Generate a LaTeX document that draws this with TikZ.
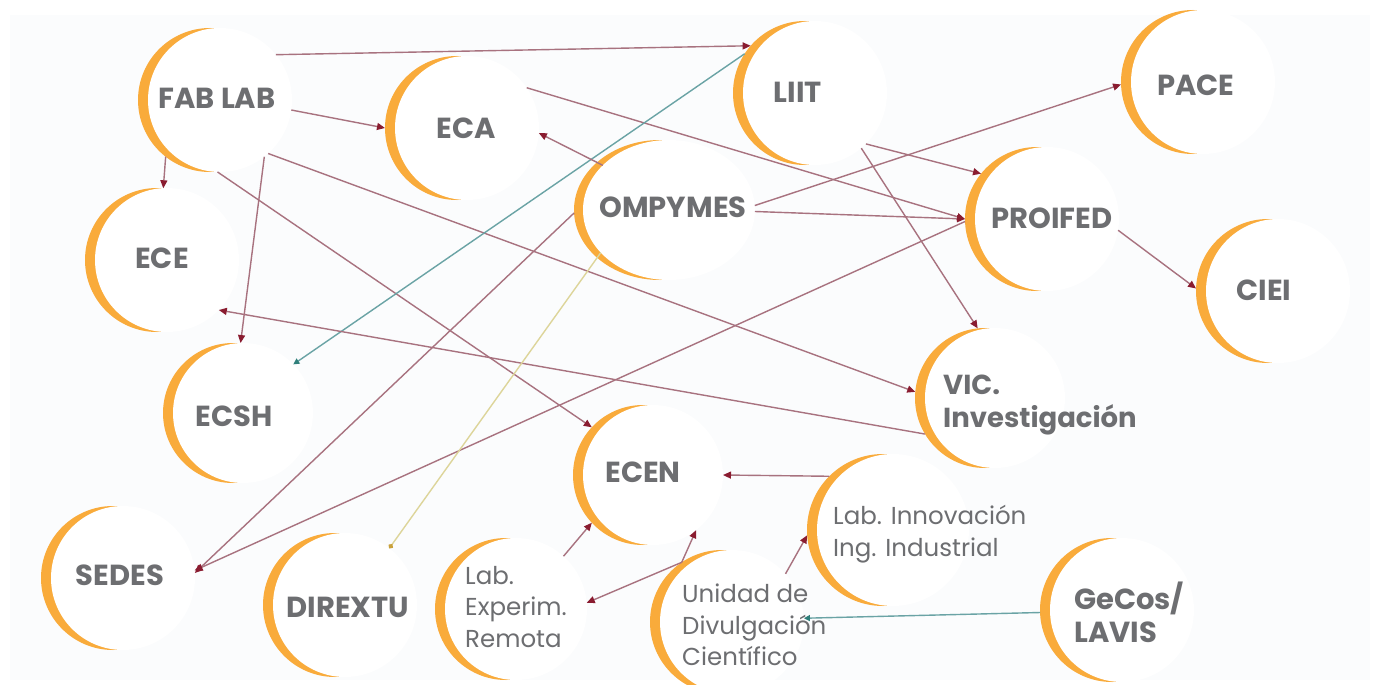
\documentclass[tikz,border=0pt]{standalone}
\usepackage{fontspec}
\setmainfont{Poppins}
\usetikzlibrary{arrows.meta,shapes.geometric}
\definecolor{orng}{HTML}{F9AB3B}
\definecolor{txt}{HTML}{6D6E71}
\definecolor{lnk}{HTML}{A8727F}
\definecolor{tip}{HTML}{8A1C30}
\definecolor{tl}{HTML}{6AA3A5}
\definecolor{tltip}{HTML}{2F7F7A}
\definecolor{yl}{HTML}{DDD59A}
\definecolor{yltip}{HTML}{C9A13B}
\definecolor{bgp}{HTML}{FBFCFD}
\newcommand\bubble[4]{%
  \node[odisc, minimum size=2*#4] (#1o) at (#2-10,#3) {};
  \node[wdisc, minimum size=2*#4] (#1) at (#2,#3) {};
}
\begin{document}
\begin{tikzpicture}[x=1pt,y=-1pt,
  odisc/.style={circle, fill=orng, inner sep=0pt, outer sep=0pt},
  wdisc/.style={circle, fill=white, inner sep=0pt, outer sep=0pt},
  link/.style={draw=lnk, line width=1.4pt, -{Triangle[length=8pt,width=7pt,color=tip]}},
  tlink/.style={draw=tl, line width=1.4pt, -{Triangle[length=6pt,width=6pt,color=tltip]}},
  ylink/.style={draw=yl, line width=1.4pt, -{Circle[length=5pt,color=yltip]}},
  bl/.style={text=txt, font=\bfseries\fontsize{29}{33}\selectfont, inner sep=0pt},
  rl/.style={text=txt, font=\fontsize{24.5}{31.5}\selectfont, inner sep=0pt, align=left, anchor=west},
  blm/.style={bl, align=left, anchor=west}]
\useasboundingbox (0,0) rectangle (1374,685);
\fill[white] (0,0) rectangle (1374,685);
\fill[bgp] (10,15) rectangle (1370,680);
% nodes
\bubble{fab}{220}{100}{72}
\bubble{eca}{467}{128}{72}
\bubble{liit}{815}{93}{72}
\bubble{pace}{1203}{82}{72}
\node[ellipse, fill=orng, inner sep=0pt, outer sep=0pt, minimum width=172, minimum height=140] (ompo) at (660,210) {};
\node[ellipse, fill=white, inner sep=0pt, outer sep=0pt, minimum width=172, minimum height=140] (omp) at (669,210) {};
\bubble{proi}{1047}{219}{72}
\bubble{ciei}{1278}{291}{72}
\bubble{ece}{167}{260}{72}
\bubble{ecsh}{243}{413}{70}
\bubble{sedes}{123}{578}{72}
\bubble{direx}{345}{605}{72}
\bubble{ecen}{653}{475}{70}
\bubble{vic}{995}{398}{70}
\bubble{lexp}{516}{609}{71}
\bubble{unid}{732}{622}{72}
\bubble{linn}{893}{530}{76}
\bubble{geco}{1122}{610}{72}
% connectors
\draw[link] (fab.39) -- (liito.139);
\draw[link] (fab.-8) -- (ecao.180);
\draw[link] (fabo.-128) -- (eceo.85);
\draw[link] (fab.-52) -- (ecsh.92);
\draw[link] (fab.-92) -- (eceno.137);
\draw[link] (fab.-48) -- (vico.175);
\draw[link] (eca.34) -- (proio.180);
\draw[tlink] (liito.147) -- (ecsh.44);
\draw[link] (omp.146) -- (eca.-4);
\draw[link] (omp.3) -- (paceo.182);
\draw[link] (omp.-1) -- (proio.180);
\draw[link] (liit.-45) -- (proio.141);
\draw[link] (liit.-50) -- (vico.96);
\draw[link] (proi.-9) -- (cieio.178);
\draw[link] (vico.-149) -- (ece.-44);
\draw[link] (linno.135) -- (ecen.0);
\draw[link] (lexp.48) -- (eceno.-137);
\draw[link] (unido.124) -- (ecen.-52);
\draw[link] (unido.124) -- (lexp.5);
\draw[link] (unid.42) -- (linno.184);
\draw[tlink] (gecoo.182) -- (unid.3);
\draw[link] (ompo.182) -- (sedes.4);
\draw[link] (proio.182) -- (sedes.6);
\draw[ylink] (omp.-148) -- (direx.52);
% labels
\node[bl] (fabt) at (217,98) {FAB LAB};
\node[bl] (ecat) at (466,128) {ECA};
\node[bl] (liitt) at (798,92) {LIIT};
\node[bl] (pacet) at (1196,85) {PACE};
\node[bl] (ompt) at (673,207) {OMPYMES};
\node[bl] (proit) at (1052,218) {PROIFED};
\node[bl] (cieit) at (1264,290) {CIEI};
\node[bl] (ecet) at (162,258) {ECE};
\node[bl] (ecsht) at (234,416) {ECSH};
\node[bl] (sedest) at (120,575) {SEDES};
\node[bl] (dirext) at (348,607) {DIREXTU};
\node[bl] (ecent) at (643,472) {ECEN};
\node[blm, font=\bfseries\fontsize{27.5}{33}\selectfont] (vict) at (943,405) {VIC.\\Investigación};
\node[blm] (gecot) at (1074,612) {GeCos/\\LAVIS};
\node[rl] (lexpt) at (465,607) {Lab.\\Experim.\\Remota};
\node[rl] (unidt) at (682,625) {Unidad de\\Divulgación\\Científico};
\node[rl] (linnt) at (833,534) {Lab. Innovación\\Ing. Industrial};
\end{tikzpicture}
\end{document}
